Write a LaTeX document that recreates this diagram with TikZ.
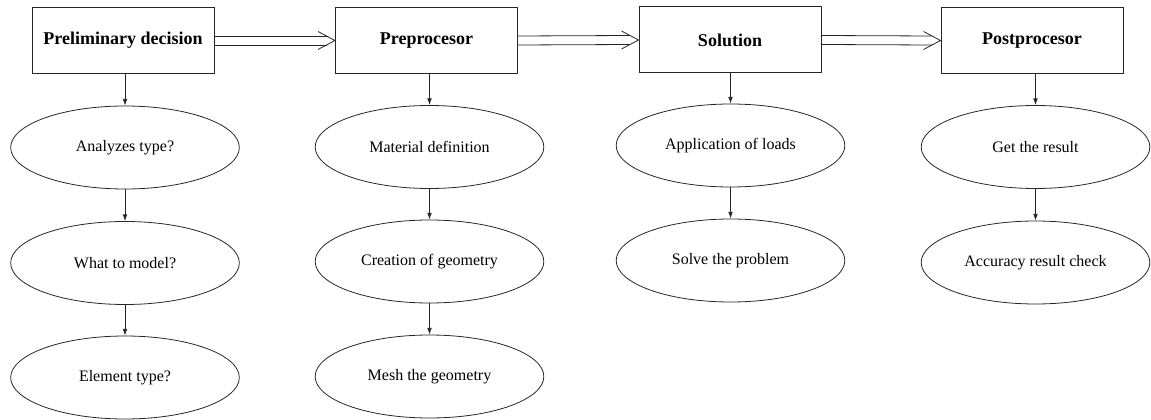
\documentclass[tikz,border=0pt]{standalone}
\usepackage{fontspec}
\setmainfont{Liberation Serif}
\usetikzlibrary{shapes.geometric,arrows.meta,calc}
\tikzset{
  stage/.style={draw=black!85, line width=0.75pt, rectangle, minimum width=136.5pt, minimum height=49.5pt, inner sep=2pt, font=\fontsize{13.5}{16}\selectfont\bfseries},
  task/.style={draw=black!85, line width=0.6pt, ellipse, minimum width=171.5pt, minimum height=62.25pt, inner sep=1pt, font=\fontsize{12}{14}\selectfont},
  link/.style={draw=black!85, line width=0.6pt},
  down/.style={draw=black!85, line width=0.6pt, -{Latex[length=5pt,width=3.5pt]}},
}
\begin{document}
\begin{tikzpicture}[x=0.75pt,y=-0.75pt]
\useasboundingbox (0,0) rectangle (1151,420);
% stage boxes
\node[stage] (b1) at (123,40.5) {Preliminary decision};
\node[stage] (b2) at (426.5,40.5) {Preprocesor};
\node[stage] (b3) at (730,40) {Solution};
\node[stage] (b4) at (1032,40.5) {Postprocesor};
% tasks
\node[task] (e11) at (125,147.5) {Analyzes type?};
\node[task] (e12) at (125,263) {What to model?};
\node[task] (e13) at (125,377.5) {Element type?};
\node[task] (e21) at (429.5,147) {Material definition};
\node[task] (e22) at (429.5,261.5) {Creation of geometry};
\node[task] (e23) at (429.5,376.5) {Mesh the geometry};
\node[task] (e31) at (730.5,145.5) {Application of loads};
\node[task] (e32) at (730.5,260.5) {Solve the problem};
\node[task] (e41) at (1035.5,147) {Get the result};
\node[task] (e42) at (1035.5,262.5) {Accuracy result check};
% double arrows between stages
\foreach \a/\b in {b1/b2,b2/b3,b3/b4}{
  \draw[link] ($(\a.east)+(0,-4.5)$) -- ($(\b.west)+(-8.5,-4.5)$);
  \draw[link] ($(\a.east)+(0,4.5)$) -- ($(\b.west)+(-8.5,4.5)$);
  \draw[link] ($(\b.west)+(-17,-9)$) -- (\b.west) -- ($(\b.west)+(-17,9)$);
}
% vertical arrows
\draw[down] (e11.north |- b1.south) -- (e11.north);
\draw[down] (e11.south) -- (e12.north);
\draw[down] (e12.south) -- (e13.north);
\draw[down] (e21.north |- b2.south) -- (e21.north);
\draw[down] (e21.south) -- (e22.north);
\draw[down] (e22.south) -- (e23.north);
\draw[down] (e31.north |- b3.south) -- (e31.north);
\draw[down] (e31.south) -- (e32.north);
\draw[down] (e41.north |- b4.south) -- (e41.north);
\draw[down] (e41.south) -- (e42.north);
\end{tikzpicture}
\end{document}
